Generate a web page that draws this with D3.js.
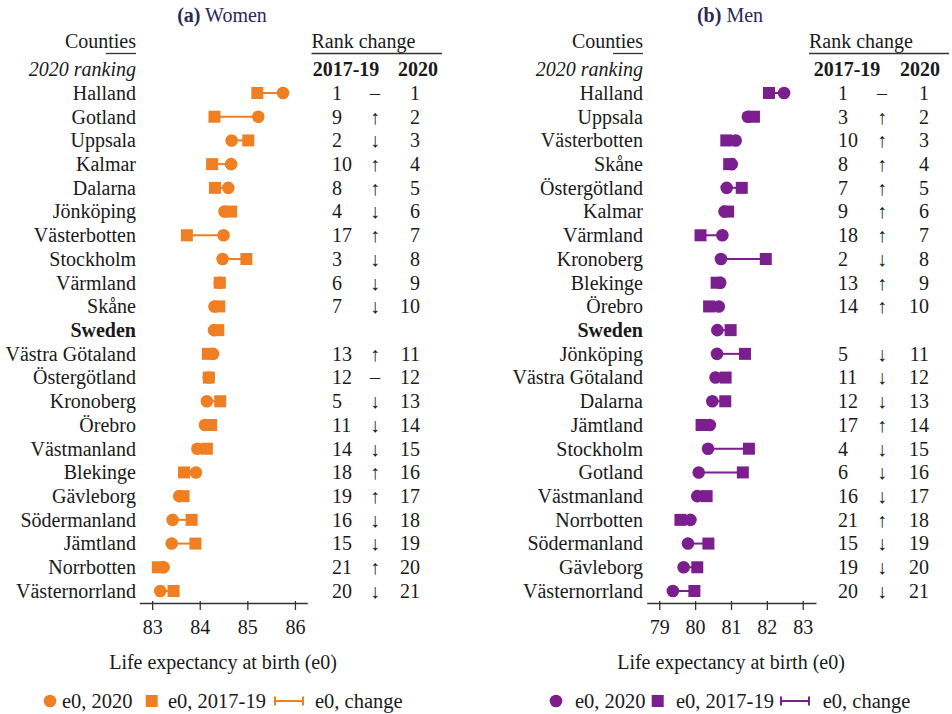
<!DOCTYPE html>
<html>
<head>
<meta charset="utf-8">
<script src="https://cdn.jsdelivr.net/npm/d3@7/dist/d3.min.js"></script>
<style>
  html, body { margin: 0; padding: 0; background: #ffffff; }
  svg { display: block; }
  text { font-family: "Liberation Serif", "DejaVu Serif", "Times New Roman", serif; fill: #1a1a1a; }
</style>
</head>
<body>
<svg id="chart" width="952" height="714"></svg>
<script>
// ---------- DATA ----------
const countiesWomen = ["Halland","Gotland","Uppsala","Kalmar","Dalarna","Jönköping","Västerbotten","Stockholm","Värmland","Skåne","Sweden","Västra Götaland","Östergötland","Kronoberg","Örebro","Västmanland","Blekinge","Gävleborg","Södermanland","Jämtland","Norrbotten","Västernorrland"];
const e0Women2020 = [85.75, 85.23, 84.67, 84.66, 84.60, 84.52, 84.50, 84.48, 84.42, 84.31, 84.30, 84.28, 84.19, 84.15, 84.11, 83.95, 83.92, 83.57, 83.43, 83.41, 83.24, 83.17];
const e0Women1719 = [85.21, 84.31, 85.02, 84.26, 84.32, 84.66, 83.73, 84.98, 84.42, 84.41, 84.39, 84.17, 84.19, 84.43, 84.24, 84.15, 83.67, 83.66, 83.83, 83.91, 83.12, 83.45];
const rankWomen1719 = [1, 9, 2, 10, 8, 4, 17, 3, 6, 7, null, 13, 12, 5, 11, 14, 18, 19, 16, 15, 21, 20];
const rankWomen2020 = [1, 2, 3, 4, 5, 6, 7, 8, 9, 10, null, 11, 12, 13, 14, 15, 16, 17, 18, 19, 20, 21];

const countiesMen = ["Halland","Uppsala","Västerbotten","Skåne","Östergötland","Kalmar","Värmland","Kronoberg","Blekinge","Örebro","Sweden","Jönköping","Västra Götaland","Dalarna","Jämtland","Stockholm","Gotland","Västmanland","Norrbotten","Södermanland","Gävleborg","Västernorrland"];
const e0Men2020 = [82.48, 81.47, 81.13, 81.02, 80.88, 80.82, 80.76, 80.72, 80.70, 80.66, 80.62, 80.61, 80.57, 80.48, 80.41, 80.36, 80.10, 80.06, 79.87, 79.80, 79.68, 79.38];
const e0Men1719 = [82.06, 81.64, 80.87, 80.95, 81.30, 80.92, 80.15, 81.97, 80.60, 80.39, 80.99, 81.39, 80.85, 80.84, 80.18, 81.50, 81.33, 80.32, 79.59, 80.37, 80.06, 79.98];
const rankMen1719 = [1, 3, 10, 8, 7, 9, 18, 2, 13, 14, null, 5, 11, 12, 17, 4, 6, 16, 21, 15, 19, 20];
const rankMen2020 = [1, 2, 3, 4, 5, 6, 7, 8, 9, 10, null, 11, 12, 13, 14, 15, 16, 17, 18, 19, 20, 21];

const ticksWomen = [83, 84, 85, 86];
const ticksMen = [79, 80, 81, 82, 83];

const legendLabels = ["e0, 2020", "e0, 2017-19", "e0, change"];
const headerCounties = "Counties";
const headerRanking = "2020 ranking";
const headerRank = "Rank change";
const headerYears = ["2017-19", "2020"];
const axisTitle = "Life expectancy at birth (e0)";

// ---------- DRAW ----------
const svg = d3.select("#chart");
svg.append("rect").attr("width", 952).attr("height", 714).attr("fill", "#ffffff");

const FS = 20;
const rowY = d3.scalePoint().domain(d3.range(22)).range([93, 591]);

function drawPanel(p) {
  const g = svg.append("g");
  const x = d3.scaleLinear().domain(p.domain).range(p.range);

  // title
  const t = g.append("text").attr("x", p.titleX).attr("y", 22)
    .attr("text-anchor", "middle").style("font-size", FS + "px");
  t.append("tspan").attr("font-weight", "bold").style("fill", "#2b2958").text(p.tag);
  t.append("tspan").style("fill", "#2b2958").text(" " + p.title);

  // headers
  g.append("text").attr("x", p.labelX).attr("y", 48).attr("text-anchor", "end")
    .style("font-size", FS + "px").text(headerCounties);
  g.append("line").attr("x1", p.labelX - 30).attr("x2", p.labelX).attr("y1", 53.5).attr("y2", 53.5)
    .attr("stroke", "#333").attr("stroke-width", 1.3);
  g.append("text").attr("x", p.labelX).attr("y", 76).attr("text-anchor", "end")
    .attr("font-style", "italic").style("font-size", FS + "px").text(headerRanking);

  g.append("text").attr("x", p.rankHeadX).attr("y", 48)
    .style("font-size", FS + "px").text(headerRank);
  g.append("line").attr("x1", p.rankHeadX).attr("x2", p.rankLineEnd).attr("y1", 53.5).attr("y2", 53.5)
    .attr("stroke", "#333").attr("stroke-width", 1.3);
  g.append("text").attr("x", p.yearX[0]).attr("y", 76).attr("text-anchor", "middle")
    .attr("font-weight", "bold").style("font-size", FS + "px").text(headerYears[0]);
  g.append("text").attr("x", p.yearX[1]).attr("y", 76).attr("text-anchor", "middle")
    .attr("font-weight", "bold").style("font-size", FS + "px").text(headerYears[1]);

  const rows = p.counties.map((c, i) => ({
    c, i, v20: p.v2020[i], v17: p.v1719[i], r17: p.r1719[i], r20: p.r2020[i]
  }));

  // county labels
  g.selectAll("text.county").data(rows).join("text").attr("class", "county")
    .attr("x", p.labelX).attr("y", d => rowY(d.i) + 6.8)
    .attr("text-anchor", "end")
    .attr("font-weight", d => d.c === "Sweden" ? "bold" : null)
    .style("font-size", FS + "px").text(d => d.c);

  // change lines
  g.selectAll("line.chg").data(rows).join("line").attr("class", "chg")
    .attr("x1", d => x(d.v17)).attr("x2", d => x(d.v20))
    .attr("y1", d => rowY(d.i)).attr("y2", d => rowY(d.i))
    .attr("stroke", p.color).attr("stroke-width", 2);
  // squares (2017-19)
  const S = 12;
  g.selectAll("rect.sq").data(rows).join("rect").attr("class", "sq")
    .attr("x", d => x(d.v17) - S / 2).attr("y", d => rowY(d.i) - S / 2)
    .attr("width", S).attr("height", S).attr("fill", p.color);
  // circles (2020)
  g.selectAll("circle.dot").data(rows).join("circle").attr("class", "dot")
    .attr("cx", d => x(d.v20)).attr("cy", d => rowY(d.i))
    .attr("r", 6.3).attr("fill", p.color);

  // ranks
  const ranked = rows.filter(d => d.r17 != null);
  g.selectAll("text.r17").data(ranked).join("text").attr("class", "r17")
    .attr("x", p.r17X).attr("y", d => rowY(d.i) + 6.8)
    .style("font-size", FS + "px").text(d => d.r17);
  g.selectAll("text.arr").data(ranked).join("text").attr("class", "arr")
    .attr("x", p.arrowX).attr("y", d => rowY(d.i) + 6.8).attr("text-anchor", "middle")
    .style("font-size", FS + "px").style("fill", "#1a1a1a")
    .text(d => d.r17 > d.r20 ? "\u2191" : (d.r17 < d.r20 ? "\u2193" : "\u2013"));
  g.selectAll("text.r20").data(ranked).join("text").attr("class", "r20")
    .attr("x", p.r20X).attr("y", d => rowY(d.i) + 6.8).attr("text-anchor", "end")
    .style("font-size", FS + "px").text(d => d.r20);

  // axis
  const ax = g.append("g").attr("transform", "translate(0,603)")
    .call(d3.axisBottom(x).tickValues(p.ticks).tickFormat(d3.format("d")).tickSizeOuter(0));
  ax.select(".domain").attr("stroke", "#333").attr("stroke-width", 1.3);
  ax.selectAll(".tick line").attr("stroke", "#333").attr("stroke-width", 1.3).attr("y1", -2).attr("y2", 7);
  ax.selectAll(".tick text").attr("y", 31).attr("dy", 0)
    .style("font-size", FS + "px").style("font-family", "'Liberation Serif', 'DejaVu Serif', serif").style("fill", "#1a1a1a");

  g.append("text").attr("x", p.axisTitleX).attr("y", 669).attr("text-anchor", "middle")
    .style("font-size", FS + "px").text(axisTitle);

  // legend
  const ly = 701;
  const LFS = 20.5;
  g.append("circle").attr("cx", p.leg[0]).attr("cy", ly).attr("r", 6.3).attr("fill", p.color);
  g.append("text").attr("x", p.leg[1]).attr("y", ly + 7).style("font-size", LFS + "px").text(legendLabels[0]);
  g.append("rect").attr("x", p.leg[2] - S / 2).attr("y", ly - S / 2).attr("width", S).attr("height", S).attr("fill", p.color);
  g.append("text").attr("x", p.leg[3]).attr("y", ly + 7).style("font-size", LFS + "px").text(legendLabels[1]);
  g.append("line").attr("x1", p.leg[4]).attr("x2", p.leg[5]).attr("y1", ly).attr("y2", ly)
    .attr("stroke", p.color).attr("stroke-width", 2);
  [p.leg[4], p.leg[5]].forEach(xx => g.append("line").attr("x1", xx).attr("x2", xx)
    .attr("y1", ly - 4.5).attr("y2", ly + 4.5).attr("stroke", p.color).attr("stroke-width", 2));
  g.append("text").attr("x", p.leg[6]).attr("y", ly + 7).style("font-size", LFS + "px").text(legendLabels[2]);
}

drawPanel({
  tag: "(a)", title: "Women", titleX: 222, color: "#ef7f22",
  counties: countiesWomen, v2020: e0Women2020, v1719: e0Women1719,
  r1719: rankWomen1719, r2020: rankWomen2020,
  domain: [82.73, 86.26], range: [139.3, 307.3], ticks: ticksWomen,
  labelX: 136, rankHeadX: 311.5, rankLineEnd: 442, yearX: [346, 418],
  r17X: 332, arrowX: 375, r20X: 420, axisTitleX: 223,
  leg: [50, 62, 151.7, 168, 275, 303, 315]
});

drawPanel({
  tag: "(b)", title: "Men", titleX: 730, color: "#7b1f8e",
  counties: countiesMen, v2020: e0Men2020, v1719: e0Men1719,
  r1719: rankMen1719, r2020: rankMen2020,
  domain: [78.65, 83.37], range: [646.7, 816], ticks: ticksMen,
  labelX: 643, rankHeadX: 809, rankLineEnd: 949, yearX: [847, 920],
  r17X: 838, arrowX: 882, r20X: 929, axisTitleX: 731,
  leg: [556, 575, 657.7, 676, 781, 809, 822.7]
});
</script>
</body>
</html>
